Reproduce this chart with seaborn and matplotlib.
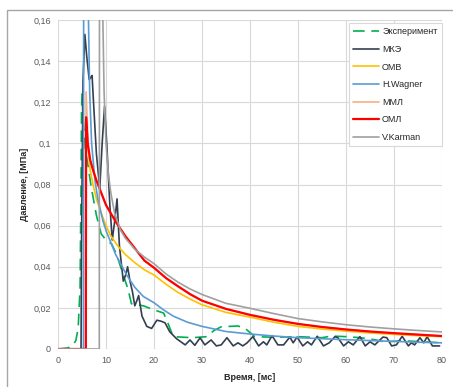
import numpy as np
import matplotlib
matplotlib.use('Agg')
import matplotlib.pyplot as plt
from matplotlib.ticker import FuncFormatter, MultipleLocator
from matplotlib.patches import Rectangle
import seaborn as sns

# ---------------- data (t in ms, p in MPa) ----------------
t_exp = [0, 2.0, 3.0, 3.7, 4.2, 4.6, 4.8, 4.9, 5.0, 5.3, 5.7, 6.2, 6.9, 8.0, 9.0, 10.0,
         11.2, 12.2, 13.6, 14.6, 15.3, 17.8, 20.0, 22.0, 23.0, 24.0, 28.0, 31.0, 32.5,
         34.0, 37.5, 39.0, 41.0, 45.0, 50.0, 55.0, 57.0, 60.0, 63.0, 66.0, 68.0, 72.0,
         76.0, 80.0]
p_exp = [0, 0.0005, 0.0015, 0.004, 0.01, 0.03, 0.08, 0.115, 0.124, 0.11, 0.097, 0.09,
         0.079, 0.065, 0.056, 0.053, 0.051, 0.046, 0.036, 0.029, 0.022, 0.021, 0.019,
         0.0175, 0.012, 0.006, 0.0055, 0.006, 0.009, 0.0108, 0.0112, 0.010, 0.006,
         0.0057, 0.006, 0.0055, 0.0063, 0.006, 0.0055, 0.0045, 0.0035, 0.004, 0.0035,
         0.003]

t_mke = [0, 4.8, 4.9, 5.2, 5.6, 6.0, 6.5, 6.8, 7.1, 7.4, 8.0, 8.7, 9.2, 9.7, 10.2, 10.8,
         11.3, 11.8, 12.3, 12.8, 13.6, 14.1, 14.5, 15.0, 15.5, 16.0, 16.5, 16.8, 17.5,
         18.5, 19.5, 20.6, 21.5, 22.3, 23.3, 24.7, 26.5, 27.5, 28.5, 29.6, 30.6, 31.9,
         33.0, 34.0, 35.2, 36.5, 37.5, 38.5, 39.4, 40.6, 41.8, 42.8, 43.5, 44.6, 45.8,
         47.0, 48.3, 49.0, 49.8, 51.0, 52.0, 52.8, 54.0, 55.3, 56.5, 57.7, 58.3, 59.5,
         60.5, 61.5, 62.9, 64.0, 65.0, 66.0, 67.7, 68.5, 69.5, 70.5, 71.7, 73.0, 73.6,
         74.3, 75.4, 76.2, 76.9, 78.0, 79.5]
p_mke = [0, 0, 0.05, 0.13, 0.153, 0.142, 0.131, 0.132, 0.133, 0.12, 0.095, 0.078, 0.10,
         0.118, 0.098, 0.07, 0.053, 0.062, 0.073, 0.05, 0.033, 0.036, 0.040, 0.033,
         0.028, 0.021, 0.024, 0.026, 0.016, 0.011, 0.010, 0.014, 0.0135, 0.0127, 0.0083,
         0.005, 0.002, 0.0044, 0.0018, 0.0054, 0.002, 0.0044, 0.0015, 0.002, 0.0055,
         0.0015, 0.003, 0.0015, 0.003, 0.006, 0.0015, 0.0035, 0.002, 0.0065, 0.002,
         0.002, 0.0058, 0.003, 0.0058, 0.0015, 0.0035, 0.002, 0.0062, 0.0015, 0.003,
         0.006, 0.0055, 0.0015, 0.0035, 0.002, 0.006, 0.0015, 0.0035, 0.002, 0.0058,
         0.0055, 0.0015, 0.002, 0.0062, 0.0015, 0.003, 0.002, 0.0055, 0.003, 0.006,
         0.0015, 0.0015]

t_omv = [0, 5.8, 5.85, 6.2, 6.7, 7.3, 8.0, 9.0, 10.0, 11.0, 12.5, 14.0, 16.0, 18.0, 20.0,
         22.5, 25.0, 27.5, 30.0, 35.0, 40.0, 45.0, 50.0, 55.0, 60.0, 65.0, 70.0, 75.0, 80.0]
p_omv = [0, 0, 0.113, 0.10, 0.087, 0.08, 0.073, 0.066, 0.060, 0.055, 0.050, 0.046, 0.042,
         0.0385, 0.036, 0.0315, 0.0275, 0.0243, 0.0215, 0.0178, 0.0155, 0.013, 0.011,
         0.0097, 0.0087, 0.0078, 0.0071, 0.0065, 0.006]

t_wag = [0, 5.3, 5.35, 6.2, 6.35, 6.6, 7.0, 7.7, 8.3, 9.4, 10.1, 10.8, 12.0, 14.3, 16.0,
         17.8, 20.0, 22.0, 24.0, 27.0, 30.0, 35.0, 40.0, 45.0, 50.0, 55.0, 60.0, 65.0,
         70.0, 75.0, 80.0]
p_wag = [0, 0, 0.2, 0.2, 0.16, 0.125, 0.10, 0.082, 0.073, 0.062, 0.057, 0.053, 0.046,
         0.036, 0.030, 0.0255, 0.0225, 0.019, 0.016, 0.013, 0.011, 0.0085, 0.0073, 0.0063,
         0.0055, 0.005, 0.0045, 0.0041, 0.0037, 0.0033, 0.003]

t_mml = [0, 5.8, 5.85, 6.3, 6.7, 7.3, 8.0, 9.0, 10.0, 11.0, 12.0, 14.0, 16.0, 18.0, 20.0,
         22.5, 25.0, 27.5, 30.0, 35.0, 40.0, 45.0, 50.0, 55.0, 60.0, 65.0, 70.0, 75.0, 80.0]
p_mml = [0, 0, 0.125, 0.099, 0.092, 0.087, 0.082, 0.076, 0.070, 0.066, 0.062, 0.055,
         0.049, 0.043, 0.0395, 0.0345, 0.0305, 0.0267, 0.0235, 0.0195, 0.0166, 0.0142,
         0.0122, 0.0107, 0.0095, 0.0085, 0.0077, 0.007, 0.0063]

t_oml = [0, 5.8, 5.85, 6.2, 6.7, 7.3, 8.0, 9.0, 10.0, 11.0, 12.0, 14.0, 16.0, 18.0, 20.0,
         22.5, 25.0, 27.5, 30.0, 35.0, 40.0, 45.0, 50.0, 55.0, 60.0, 65.0, 70.0, 75.0, 80.0]
p_oml = [0, 0, 0.1127, 0.10, 0.092, 0.087, 0.082, 0.076, 0.070, 0.066, 0.062, 0.055,
         0.049, 0.043, 0.0395, 0.0345, 0.0305, 0.0267, 0.0235, 0.0195, 0.0166, 0.0142,
         0.0122, 0.0107, 0.0095, 0.0085, 0.0077, 0.007, 0.0063]

t_kar = [0, 8.6, 8.65, 9.2, 9.35, 9.6, 10.0, 10.5, 11.0, 11.8, 13.0, 14.0, 16.0, 18.0,
         20.0, 22.5, 25.0, 27.5, 30.0, 35.0, 40.0, 45.0, 50.0, 55.0, 60.0, 65.0, 70.0,
         75.0, 80.0]
p_kar = [0, 0, 0.2, 0.2, 0.16, 0.125, 0.10, 0.085, 0.076, 0.066, 0.058, 0.054, 0.0485,
         0.0447, 0.0415, 0.0365, 0.0325, 0.0292, 0.0265, 0.0222, 0.0198, 0.0172, 0.0148,
         0.0132, 0.0118, 0.0107, 0.0098, 0.009, 0.0083]

series = [
    ('Эксперимент', t_exp, p_exp, '#00B050', 1.2, (0, (7, 4))),
    ('МКЭ', t_mke, p_mke, '#333F50', 1.2, '-'),
    ('ОМВ', t_omv, p_omv, '#FFC000', 1.2, '-'),
    ('H.Wagner', t_wag, p_wag, '#5B9BD5', 1.2, '-'),
    ('ММЛ', t_mml, p_mml, '#F4B183', 1.2, '-'),
    ('ОМЛ', t_oml, p_oml, '#FF0000', 1.6, '-'),
    ('V.Karman', t_kar, p_kar, '#A0A0A0', 1.2, '-'),
]

# ---------------- style ----------------
sns.set_theme(style='whitegrid')
plt.rcParams['font.family'] = ['Liberation Sans', 'DejaVu Sans']
tick_col = '#595959'
grid_col = '#D9D9D9'

fig = plt.figure(figsize=(4.53, 3.87), dpi=100)
ax = fig.add_axes([58 / 453, 1 - 349 / 387, 384 / 453, 329 / 387])

for name, t, p, col, lw, ls in series:
    sns.lineplot(x=t, y=p, ax=ax, color=col, linewidth=lw, linestyle=ls,
                 estimator=None, sort=False, label=name)

ax.set_xlim(0, 80)
ax.set_ylim(0, 0.16)
ax.xaxis.set_major_locator(MultipleLocator(10))
ax.yaxis.set_major_locator(MultipleLocator(0.02))
ax.yaxis.set_major_formatter(FuncFormatter(lambda v, pos: f'{v:g}'.replace('.', ',')))
ax.tick_params(axis='both', labelsize=6.5, labelcolor=tick_col, length=0, pad=5)
ax.grid(True, color=grid_col, linewidth=0.8)
for s in ax.spines.values():
    s.set_visible(False)

ax.set_xlabel('Время, [мс]', fontsize=6.5, fontweight='bold', color='#262626', labelpad=6)
ax.set_ylabel('Давление, [МПа]', fontsize=6.5, fontweight='bold', color='#262626', labelpad=3.5)

leg = ax.legend(loc='upper right', bbox_to_anchor=(1.0, 0.991), borderaxespad=0,
                fontsize=6.5, frameon=True, fancybox=False, framealpha=1,
                handlelength=2.8, handletextpad=0.4, labelspacing=0.95, borderpad=0.5)
leg.get_frame().set_edgecolor(grid_col)
leg.get_frame().set_linewidth(0.8)
for txt in leg.get_texts():
    txt.set_color('#262626')

# outer chart frame
fig.patches.append(Rectangle((7 / 453, -0.1), 1.2, 1.1 - 10 / 387, transform=fig.transFigure,
                             fill=False, edgecolor='#A6A6A6', linewidth=1.0))

fig.savefig('out.png', dpi=100)
